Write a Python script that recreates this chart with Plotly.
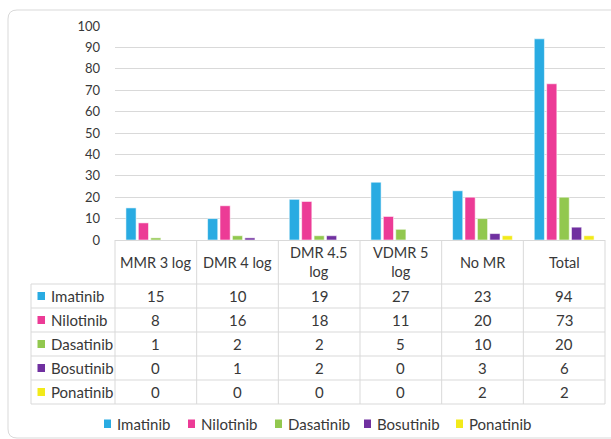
import plotly.graph_objects as go

# Molecular response categories and TKI counts
categories = ["MMR 3 log", "DMR 4 log", "DMR 4.5 log", "VDMR 5 log", "No MR", "Total"]
header_labels = ["MMR 3 log", "DMR 4 log", "DMR 4.5<br>log", "VDMR 5<br>log", "No MR", "Total"]
drugs = ["Imatinib", "Nilotinib", "Dasatinib", "Bosutinib", "Ponatinib"]

imatinib = [15, 10, 19, 27, 23, 94]
nilotinib = [8, 16, 18, 11, 20, 73]
dasatinib = [1, 2, 2, 5, 10, 20]
bosutinib = [0, 1, 2, 0, 3, 6]
ponatinib = [0, 0, 0, 0, 2, 2]

series = [imatinib, nilotinib, dasatinib, bosutinib, ponatinib]
colors = ["#29ABE2", "#EC3B96", "#92C84F", "#7030A0", "#F2EA1A"]

y_ticks = [0, 10, 20, 30, 40, 50, 60, 70, 80, 90, 100]

# ---- page geometry (pixels) ----
W, H = 611, 439
L, R, T, B = 115, 6, 26, 199
PW, PH = W - L - R, H - T - B
FONT = "Lato"
TXT = "#383838"
LINE = "#D9D9D9"
TABLE_SIZE = 15


def fx(px):
    return (px - L) / PW


def fy(py):
    return (H - B - py) / PH


fig = go.Figure()
for name, vals, col in zip(drugs, series, colors):
    fig.add_trace(go.Bar(
        x=categories, y=vals, name=name,
        marker=dict(color=col, line=dict(color="rgba(255,255,255,0.55)", width=1)),
        showlegend=False,
    ))

shapes = []
annotations = []

# outer rounded frame
x0, y0, x1, y1, r = 8, 10, 622, 438, 9
path = (f"M {fx(x0 + r)} {fy(y0)} L {fx(x1 - r)} {fy(y0)} "
        f"Q {fx(x1)} {fy(y0)} {fx(x1)} {fy(y0 + r)} L {fx(x1)} {fy(y1 - r)} "
        f"Q {fx(x1)} {fy(y1)} {fx(x1 - r)} {fy(y1)} L {fx(x0 + r)} {fy(y1)} "
        f"Q {fx(x0)} {fy(y1)} {fx(x0)} {fy(y1 - r)} L {fx(x0)} {fy(y0 + r)} "
        f"Q {fx(x0)} {fy(y0)} {fx(x0 + r)} {fy(y0)} Z")
shapes.append(dict(type="path", xref="paper", yref="paper", path=path,
                   line=dict(color=LINE, width=1), layer="below"))

# data table grid
base_y = H - B
header_bottom = 284
row_h = 24
n_rows = len(drugs)
table_bottom = header_bottom + row_h * n_rows
label_left = 31
n_cat = len(categories)
col_w = PW / n_cat

for i in range(n_cat + 1):
    xp = L + col_w * i
    shapes.append(dict(type="line", xref="paper", yref="paper",
                       x0=fx(xp), x1=fx(xp), y0=fy(base_y), y1=fy(table_bottom),
                       line=dict(color=LINE, width=1)))
shapes.append(dict(type="line", xref="paper", yref="paper",
                   x0=fx(label_left), x1=fx(label_left), y0=fy(header_bottom), y1=fy(table_bottom),
                   line=dict(color=LINE, width=1)))
for k in range(n_rows + 1):
    yp = header_bottom + row_h * k
    shapes.append(dict(type="line", xref="paper", yref="paper",
                       x0=fx(label_left), x1=fx(L + PW), y0=fy(yp), y1=fy(yp),
                       line=dict(color=LINE, width=1)))

# header row
for cat, lab in zip(categories, header_labels):
    annotations.append(dict(x=cat, xref="x", y=fy((base_y + header_bottom) / 2), yref="paper",
                            text=lab, showarrow=False, xanchor="center", yanchor="middle",
                            font=dict(family=FONT, size=14.5, color=TXT)))

# value rows with colour keys
for k, (name, vals, col) in enumerate(zip(drugs, series, colors)):
    yc = header_bottom + row_h * k + row_h / 2
    shapes.append(dict(type="rect", xref="paper", yref="paper",
                       x0=fx(37.5), x1=fx(45), y0=fy(yc - 4), y1=fy(yc + 4),
                       fillcolor=col, line=dict(width=0)))
    annotations.append(dict(x=fx(49), xref="paper", y=fy(yc), yref="paper", text=name,
                            showarrow=False, xanchor="left", yanchor="middle",
                            font=dict(family=FONT, size=TABLE_SIZE, color=TXT)))
    for cat, v in zip(categories, vals):
        annotations.append(dict(x=cat, xref="x", y=fy(yc), yref="paper", text=str(v),
                                showarrow=False, xanchor="center", yanchor="middle",
                                font=dict(family=FONT, size=TABLE_SIZE, color=TXT)))

# legend along the bottom
legend_x = [104, 188, 275, 364, 456]
legend_y = 424
for name, col, lx in zip(drugs, colors, legend_x):
    shapes.append(dict(type="rect", xref="paper", yref="paper",
                       x0=fx(lx), x1=fx(lx + 7), y0=fy(legend_y - 4.5), y1=fy(legend_y + 4),
                       fillcolor=col, line=dict(width=0)))
    annotations.append(dict(x=fx(lx + 11), xref="paper", y=fy(legend_y), yref="paper", text=name,
                            showarrow=False, xanchor="left", yanchor="middle",
                            font=dict(family=FONT, size=TABLE_SIZE, color=TXT)))

fig.update_layout(
    width=W, height=H,
    margin=dict(l=L, r=R, t=T, b=B, pad=0),
    paper_bgcolor="white", plot_bgcolor="white",
    barmode="group", bargap=0.24, bargroupgap=0.18,
    font=dict(family=FONT, size=13, color=TXT),
    shapes=shapes, annotations=annotations,
    xaxis=dict(type="category", categoryorder="array", categoryarray=categories,
               showticklabels=False, showgrid=False, showline=False, zeroline=False, ticks=""),
    yaxis=dict(range=[0, 100], tickvals=y_ticks, showgrid=True, gridcolor=LINE, gridwidth=1,
               zeroline=True, zerolinecolor=LINE, zerolinewidth=1, showline=False, ticks="",
               ticklabelstandoff=14, tickfont=dict(family=FONT, size=13, color=TXT)),
)

fig.write_html("out.html")
